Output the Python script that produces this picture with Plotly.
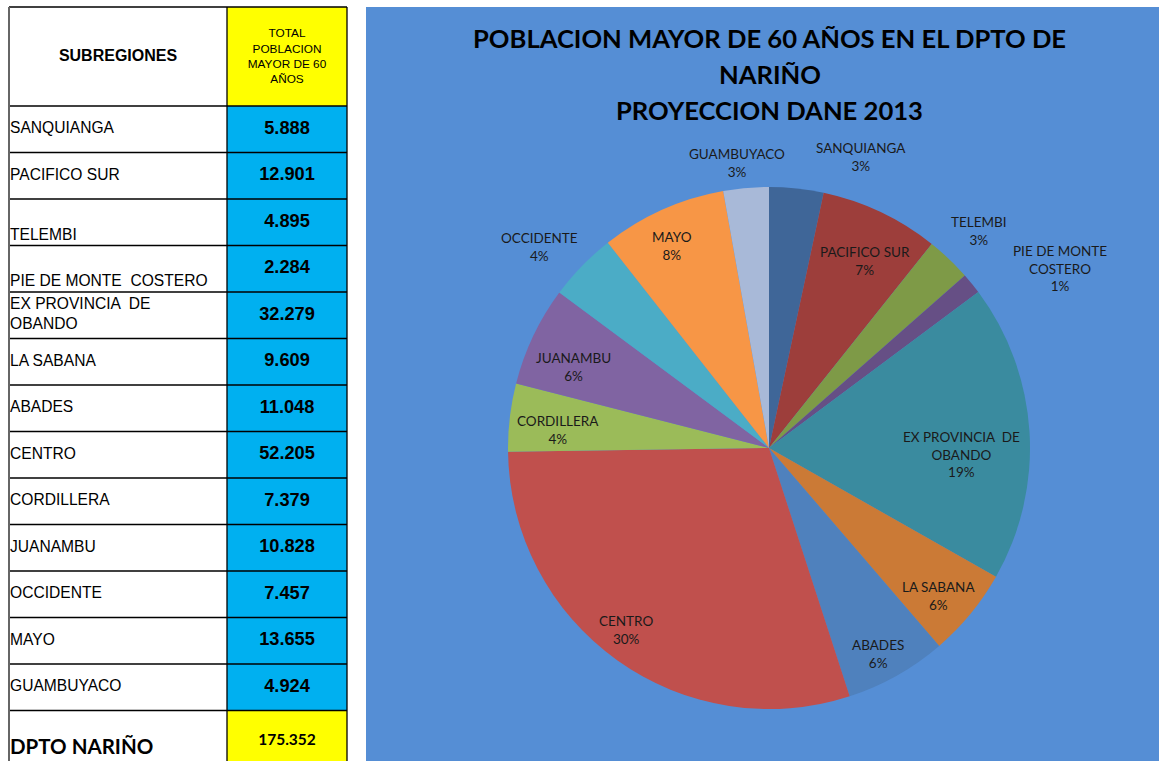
import math
import plotly.graph_objects as go

# ---------------- data ----------------
subregiones = ["SANQUIANGA", "PACIFICO SUR", "TELEMBI", "PIE DE MONTE  COSTERO",
               "EX PROVINCIA  DE<br>OBANDO", "LA SABANA", "ABADES", "CENTRO",
               "CORDILLERA", "JUANAMBU", "OCCIDENTE", "MAYO", "GUAMBUYACO"]
poblacion = [5888, 12901, 4895, 2284, 32279, 9609, 11048, 52205,
             7379, 10828, 7457, 13655, 4924]
pie_labels = ["SANQUIANGA", "PACIFICO SUR", "TELEMBI", "PIE DE MONTE<br>COSTERO",
              "EX PROVINCIA  DE<br>OBANDO", "LA SABANA", "ABADES", "CENTRO",
              "CORDILLERA", "JUANAMBU", "OCCIDENTE", "MAYO", "GUAMBUYACO"]
pie_pct = ["3%", "7%", "3%", "1%", "19%", "6%", "6%", "30%", "4%", "6%", "4%", "8%", "3%"]
header_name = "SUBREGIONES"
header_value = "TOTAL<br>POBLACION<br>MAYOR DE 60<br>AÑOS"
total_label = "DPTO NARIÑO"
title_lines = ["POBLACION MAYOR DE 60 AÑOS EN EL DPTO DE", "NARIÑO", "PROYECCION DANE 2013"]

# ---------------- styles ----------------
slice_colors = ["#3F6698", "#9D3E3B", "#7E9A47", "#664F85", "#3A8B9F", "#CB7A36",
                "#4F81BD", "#C0504D", "#9BBB59", "#8064A2", "#4BACC6", "#F79646", "#A8B9D8"]
# label placement relative to slice mid-angle: radial factor and angular nudge (deg)
label_r = [1.17, 0.805, 1.157, 1.31, 0.739, 0.86, 0.894, 0.887, 0.81, 0.81, 1.17, 0.86, 1.10]
label_dang = [11.4, 1.9, 0.5, 7.3, 5.4, 1.7, 1.4, 2.6, -1.8, -3.0, -3.0, -1.5, -1.3]
name_valign = ["middle", "middle", "bottom", "bottom", "middle", "middle", "middle",
               "middle", "middle", "middle", "middle", "middle", "middle"]

W, H = 1159, 761
T_LEFT, T_SPLIT, T_RIGHT = 9, 227, 347
T_TOP, HDR_BOT, ROW_H = 7, 106, 46.5
CHART_X0, CHART_Y0 = 366, 7
CHART_BG = "#558ED5"
BLUE_CELL = "#00B0F0"
YELLOW = "#FFFF00"
ARIAL = "Liberation Sans, Arial, sans-serif"
CAL = "Lato, Calibri, sans-serif"
PIE_CX, PIE_CY, PIE_R = 769, 448, 261

fig = go.Figure()
shapes = []

shapes.append(dict(type="rect", xref="x", yref="y", x0=CHART_X0, x1=W + 20, y0=CHART_Y0, y1=H + 20,
                   fillcolor=CHART_BG, line=dict(width=0), layer="below"))

n = len(subregiones)
row_tops = [HDR_BOT + i * ROW_H for i in range(n)]
total_top = HDR_BOT + n * ROW_H
bottom = total_top + 100

shapes.append(dict(type="rect", xref="x", yref="y", x0=T_SPLIT, x1=T_RIGHT, y0=T_TOP, y1=HDR_BOT,
                   fillcolor=YELLOW, line=dict(width=0), layer="below"))
for t in row_tops:
    shapes.append(dict(type="rect", xref="x", yref="y", x0=T_SPLIT, x1=T_RIGHT, y0=t, y1=t + ROW_H,
                       fillcolor=BLUE_CELL, line=dict(width=0), layer="below"))
shapes.append(dict(type="rect", xref="x", yref="y", x0=T_SPLIT, x1=T_RIGHT, y0=total_top, y1=bottom,
                   fillcolor=YELLOW, line=dict(width=0), layer="below"))

for yv in [T_TOP, HDR_BOT] + [t + ROW_H for t in row_tops]:
    shapes.append(dict(type="line", xref="x", yref="y", x0=T_LEFT, x1=T_RIGHT, y0=yv, y1=yv,
                       line=dict(color="black", width=1.3)))
shapes.append(dict(type="line", xref="x", yref="y", x0=T_LEFT, x1=T_LEFT, y0=T_TOP, y1=bottom,
                   line=dict(color="#666666", width=2)))
for xv in [T_SPLIT, T_RIGHT]:
    shapes.append(dict(type="line", xref="x", yref="y", x0=xv, x1=xv, y0=T_TOP, y1=bottom,
                       line=dict(color="black", width=1.3)))

# table text
name_y = []
for t, va in zip(row_tops, name_valign):
    c = t + ROW_H / 2
    name_y.append(c + 13.5 if va == "bottom" else c)
fig.add_trace(go.Scatter(x=[T_LEFT + 1] * n, y=name_y, mode="text", text=subregiones,
                         textposition="middle right", hoverinfo="skip", showlegend=False,
                         textfont=dict(family=ARIAL, size=15.6, color="black")))
value_text = ["<b>" + f"{v:,}".replace(",", ".") + "</b>" for v in poblacion]
fig.add_trace(go.Scatter(x=[(T_SPLIT + T_RIGHT) / 2] * n, y=[t + ROW_H / 2 for t in row_tops],
                         mode="text", text=value_text, textposition="middle center",
                         hoverinfo="skip", showlegend=False,
                         textfont=dict(family=ARIAL, size=18.2, color="black")))
fig.add_trace(go.Scatter(x=[(T_LEFT + T_SPLIT) / 2], y=[(T_TOP + HDR_BOT) / 2], mode="text",
                         text=["<b>" + header_name + "</b>"], textposition="middle center",
                         hoverinfo="skip", showlegend=False,
                         textfont=dict(family=ARIAL, size=16, color="black")))
fig.add_trace(go.Scatter(x=[(T_SPLIT + T_RIGHT) / 2], y=[(T_TOP + HDR_BOT) / 2 + 1], mode="text",
                         text=[header_value], textposition="middle center",
                         hoverinfo="skip", showlegend=False,
                         textfont=dict(family=ARIAL, size=11.8, color="black")))
total = sum(poblacion)
fig.add_trace(go.Scatter(x=[T_LEFT + 1], y=[total_top + 38], mode="text",
                         text=["<b>" + total_label + "</b>"], textposition="middle right",
                         hoverinfo="skip", showlegend=False,
                         textfont=dict(family=CAL, size=20.5, color="black")))
fig.add_trace(go.Scatter(x=[(T_SPLIT + T_RIGHT) / 2], y=[total_top + 31], mode="text",
                         text=["<b>" + f"{total:,}".replace(",", ".") + "</b>"],
                         textposition="middle center", hoverinfo="skip", showlegend=False,
                         textfont=dict(family=CAL, size=15.5, color="black")))

# pie
fig.add_trace(go.Pie(
    labels=subregiones, values=poblacion, textinfo="none",
    sort=False, direction="clockwise", rotation=0,
    marker=dict(colors=slice_colors, line=dict(width=0)),
    showlegend=False, hoverinfo="label+value+percent",
    domain=dict(x=[(PIE_CX - PIE_R) / W, (PIE_CX + PIE_R) / W],
                y=[(H - (PIE_CY + PIE_R)) / H, (H - (PIE_CY - PIE_R)) / H]),
))

# slice labels placed around each slice's mid-angle
cum = 0
for lab, pct, v, rf, da in zip(pie_labels, pie_pct, poblacion, label_r, label_dang):
    mid = (cum + v / 2) / total * 360 + da
    cum += v
    th = math.radians(mid)
    lx = PIE_CX + rf * PIE_R * math.sin(th)
    ly = PIE_CY - rf * PIE_R * math.cos(th)
    fig.add_annotation(x=lx, y=ly, xref="x", yref="y", text=lab + "<br>" + pct,
                       showarrow=False, xanchor="center", yanchor="middle",
                       font=dict(family=CAL, size=13.5, color="#1a1a1a"))

for i, line in enumerate(title_lines):
    fig.add_annotation(x=769.5, y=38 + 36 * i, xref="x", yref="y", text="<b>" + line + "</b>",
                       showarrow=False, xanchor="center", yanchor="middle",
                       font=dict(family=CAL, size=25.6, color="black"))

fig.update_layout(
    width=W, height=H, margin=dict(l=0, r=0, t=0, b=0),
    paper_bgcolor="white", plot_bgcolor="rgba(0,0,0,0)",
    xaxis=dict(range=[0, W], domain=[0, 1], visible=False, fixedrange=True),
    yaxis=dict(range=[H, 0], domain=[0, 1], visible=False, fixedrange=True),
    shapes=shapes,
)

fig.write_html("out.html", config={"displayModeBar": False},
               post_script="document.body.style.margin='0';document.body.style.overflow='hidden';")
